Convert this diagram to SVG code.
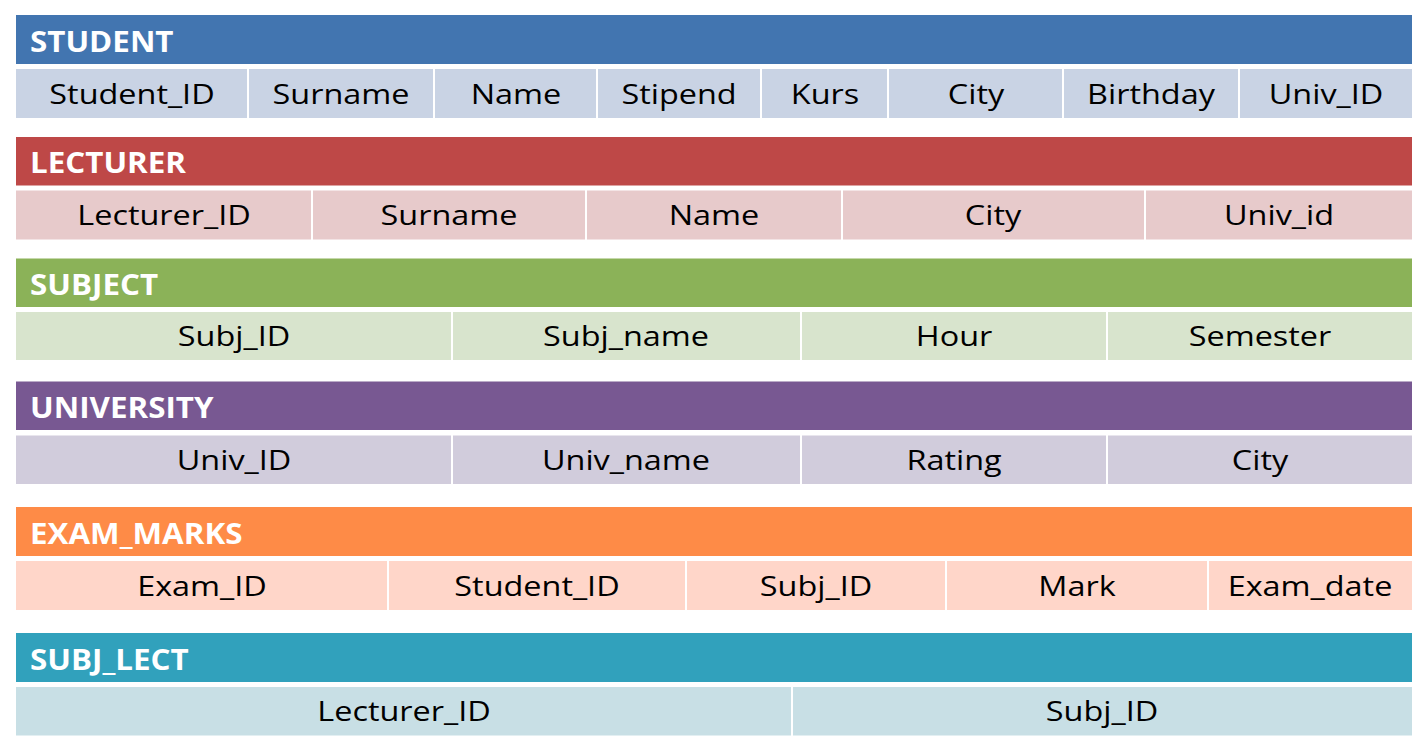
<svg xmlns="http://www.w3.org/2000/svg" width="1426" height="751" viewBox="0 0 1426 751">
<style>
.h{font-family:"Open Sans","Liberation Sans",sans-serif;font-weight:700;font-size:28px;fill:#fff}
.c{font-family:"Open Sans","Liberation Sans",sans-serif;font-size:27px;fill:#000;text-anchor:middle}
</style>
<rect width="1426" height="751" fill="#fff"/>
<g id="student">
<rect x="16" y="15" width="1396" height="49" fill="#4275B0"/>
<text class="h" transform="translate(30,51.5) scale(1.12,1)">STUDENT</text>
<g fill="#C9D3E4">
<rect x="16" y="69" width="231" height="49"/><rect x="249" y="69" width="184" height="49"/><rect x="435" y="69" width="161" height="49"/><rect x="598" y="69" width="162" height="49"/><rect x="762" y="69" width="125" height="49"/><rect x="889" y="69" width="173" height="49"/><rect x="1064" y="69" width="174" height="49"/><rect x="1240" y="69" width="172" height="49"/>
</g>
<text class="c" transform="translate(132,103.5) scale(1.2,1)">Student_ID</text>
<text class="c" transform="translate(341,103.5) scale(1.2,1)">Surname</text>
<text class="c" transform="translate(516,103.5) scale(1.2,1)">Name</text>
<text class="c" transform="translate(679,103.5) scale(1.2,1)">Stipend</text>
<text class="c" transform="translate(825,103.5) scale(1.2,1)">Kurs</text>
<text class="c" transform="translate(976,103.5) scale(1.2,1)">City</text>
<text class="c" transform="translate(1151,103.5) scale(1.2,1)">Birthday</text>
<text class="c" transform="translate(1326,103.5) scale(1.2,1)">Univ_ID</text>
</g>
<g id="lecturer">
<rect x="16" y="137" width="1396" height="48.5" fill="#BE4847"/>
<text class="h" transform="translate(30,173) scale(1.12,1)">LECTURER</text>
<g fill="#E7CACB">
<rect x="16" y="190.5" width="295" height="49"/><rect x="313" y="190.5" width="272" height="49"/><rect x="587" y="190.5" width="254" height="49"/><rect x="843" y="190.5" width="301" height="49"/><rect x="1146" y="190.5" width="266" height="49"/>
</g>
<text class="c" transform="translate(164,225) scale(1.2,1)">Lecturer_ID</text>
<text class="c" transform="translate(449,225) scale(1.2,1)">Surname</text>
<text class="c" transform="translate(714,225) scale(1.2,1)">Name</text>
<text class="c" transform="translate(993,225) scale(1.2,1)">City</text>
<text class="c" transform="translate(1279,225) scale(1.2,1)">Univ_id</text>
</g>
<g id="subject">
<rect x="16" y="258.5" width="1396" height="48.5" fill="#8BB258"/>
<text class="h" transform="translate(30,294.5) scale(1.12,1)">SUBJECT</text>
<g fill="#D8E4CD">
<rect x="16" y="312" width="435" height="48"/><rect x="453" y="312" width="347" height="48"/><rect x="802" y="312" width="304" height="48"/><rect x="1108" y="312" width="304" height="48"/>
</g>
<text class="c" transform="translate(234,346) scale(1.2,1)">Subj_ID</text>
<text class="c" transform="translate(626,346) scale(1.2,1)">Subj_name</text>
<text class="c" transform="translate(954,346) scale(1.2,1)">Hour</text>
<text class="c" transform="translate(1260,346) scale(1.2,1)">Semester</text>
</g>
<g id="university">
<rect x="16" y="381.5" width="1396" height="48.5" fill="#785892"/>
<text class="h" transform="translate(30,417.5) scale(1.12,1)">UNIVERSITY</text>
<g fill="#D1CCDC">
<rect x="16" y="435.5" width="435" height="48.5"/><rect x="453" y="435.5" width="347" height="48.5"/><rect x="802" y="435.5" width="304" height="48.5"/><rect x="1108" y="435.5" width="304" height="48.5"/>
</g>
<text class="c" transform="translate(234,470) scale(1.2,1)">Univ_ID</text>
<text class="c" transform="translate(626,470) scale(1.2,1)">Univ_name</text>
<text class="c" transform="translate(954,470) scale(1.2,1)">Rating</text>
<text class="c" transform="translate(1260,470) scale(1.2,1)">City</text>
</g>
<g id="exam_marks">
<rect x="16" y="507" width="1396" height="49" fill="#FE8B47"/>
<text class="h" transform="translate(30,543.5) scale(1.12,1)">EXAM_MARKS</text>
<g fill="#FFD6C9">
<rect x="16" y="561" width="371" height="49"/><rect x="389" y="561" width="296" height="49"/><rect x="687" y="561" width="258" height="49"/><rect x="947" y="561" width="260" height="49"/><rect x="1209" y="561" width="203" height="49"/>
</g>
<text class="c" transform="translate(202,595.5) scale(1.2,1)">Exam_ID</text>
<text class="c" transform="translate(537,595.5) scale(1.2,1)">Student_ID</text>
<text class="c" transform="translate(816,595.5) scale(1.2,1)">Subj_ID</text>
<text class="c" transform="translate(1077,595.5) scale(1.2,1)">Mark</text>
<text class="c" transform="translate(1310,595.5) scale(1.2,1)">Exam_date</text>
</g>
<g id="subj_lect">
<rect x="16" y="633" width="1396" height="49" fill="#31A1BC"/>
<text class="h" transform="translate(30,669.5) scale(1.12,1)">SUBJ_LECT</text>
<g fill="#C8DFE5">
<rect x="16" y="687" width="775" height="48.5"/><rect x="793" y="687" width="619" height="48.5"/>
</g>
<text class="c" transform="translate(404,721) scale(1.2,1)">Lecturer_ID</text>
<text class="c" transform="translate(1102,721) scale(1.2,1)">Subj_ID</text>
</g>
<g id="connectors"/>
</svg>
